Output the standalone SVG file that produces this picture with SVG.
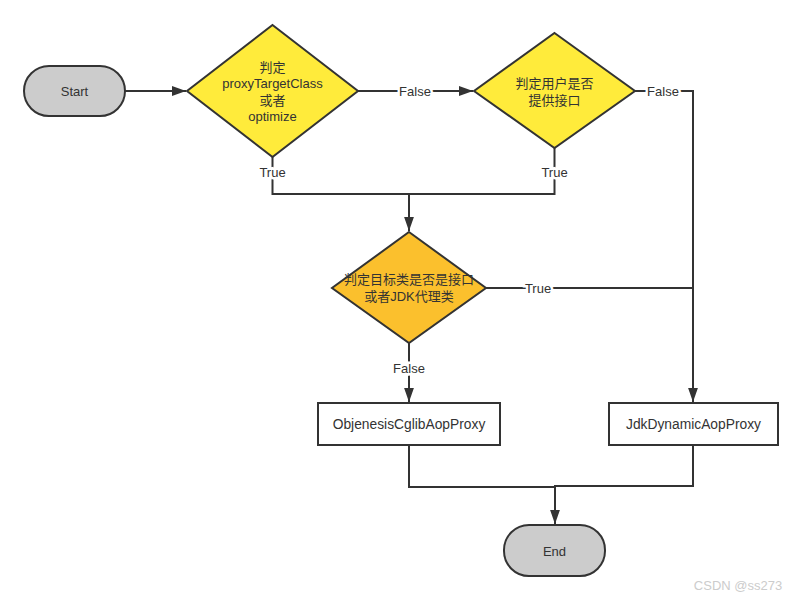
<svg xmlns="http://www.w3.org/2000/svg" width="803" height="601" viewBox="0 0 803 601">
<style>
.n{stroke:#333;stroke-width:2}
.t{font-family:"Liberation Sans","Noto Sans CJK SC",sans-serif;font-size:13px;fill:#333;text-anchor:middle}
.b{font-size:13.8px}
.c{fill:none;stroke:#333;stroke-width:2}
.l{font-family:"Liberation Sans","Noto Sans CJK SC",sans-serif;font-size:13px;fill:#333;text-anchor:middle;stroke:#fff;stroke-width:5;paint-order:stroke}
</style>
<defs>
<marker id="a" viewBox="0 0 10 10" refX="10" refY="5" markerWidth="7" markerHeight="7" orient="auto" markerUnits="strokeWidth">
<path d="M0,1.5 L10,5 L0,8.5 Z" fill="#333"/>
</marker>
</defs>
<rect width="803" height="601" fill="#fff"/>
<g id="connectors">
<path class="c" d="M125,91 H186" marker-end="url(#a)"/>
<path class="c" d="M358,91 H473" marker-end="url(#a)"/>
<path class="c" d="M635,91 H693 V402" marker-end="url(#a)"/>
<path class="c" d="M272.5,157 V194 H409"/>
<path class="c" d="M554.5,148 V194 H409 V231" marker-end="url(#a)"/>
<path class="c" d="M486,288 H693"/>
<path class="c" d="M409,343 V402" marker-end="url(#a)"/>
<path class="c" d="M409,445 V487 H555"/>
<path class="c" d="M693,445 V486 H555 V524" marker-end="url(#a)"/>
<text class="l" x="415" y="96">False</text>
<text class="l" x="663" y="96">False</text>
<text class="l" x="272.5" y="177">True</text>
<text class="l" x="554.5" y="177">True</text>
<text class="l" x="538" y="293">True</text>
<text class="l" x="409" y="373">False</text>
</g>
<g id="start">
<rect class="n" x="24" y="66" width="101" height="50" rx="25" fill="#ccc"/>
<text class="t" x="74.5" y="96">Start</text>
</g>
<g id="d1">
<polygon class="n" points="272.5,25 358,91 272.5,157 187,91" fill="#ffeb3b"/>
<text class="t" x="272.5" y="72">判定</text>
<text class="t" x="272.5" y="88">proxyTargetClass</text>
<text class="t" x="272.5" y="105">或者</text>
<text class="t" x="272.5" y="121">optimize</text>
</g>
<g id="d2">
<polygon class="n" points="554.5,33 635,91 554.5,148 474,91" fill="#ffeb3b"/>
<text class="t" x="554.5" y="88">判定用户是否</text>
<text class="t" x="554.5" y="105">提供接口</text>
</g>
<g id="d3">
<polygon class="n" points="409,232 486,288 409,343 332,288" fill="#fbc02d"/>
<text class="t" x="409" y="284">判定目标类是否是接口</text>
<text class="t" x="409" y="301">或者JDK代理类</text>
</g>
<g id="cglib">
<rect class="n" x="318" y="403" width="182" height="42" fill="#fff"/>
<text class="t b" x="409" y="429">ObjenesisCglibAopProxy</text>
</g>
<g id="jdk">
<rect class="n" x="609" y="403" width="169" height="42" fill="#fff"/>
<text class="t b" x="693.5" y="429">JdkDynamicAopProxy</text>
</g>
<g id="end">
<rect class="n" x="504" y="525" width="101" height="51" rx="25" fill="#ccc"/>
<text class="t" x="554.5" y="556">End</text>
</g>
<text x="738" y="590" font-family="Liberation Sans,Noto Sans CJK SC,sans-serif" font-size="13" fill="#ccc" text-anchor="middle">CSDN @ss273</text>
</svg>
